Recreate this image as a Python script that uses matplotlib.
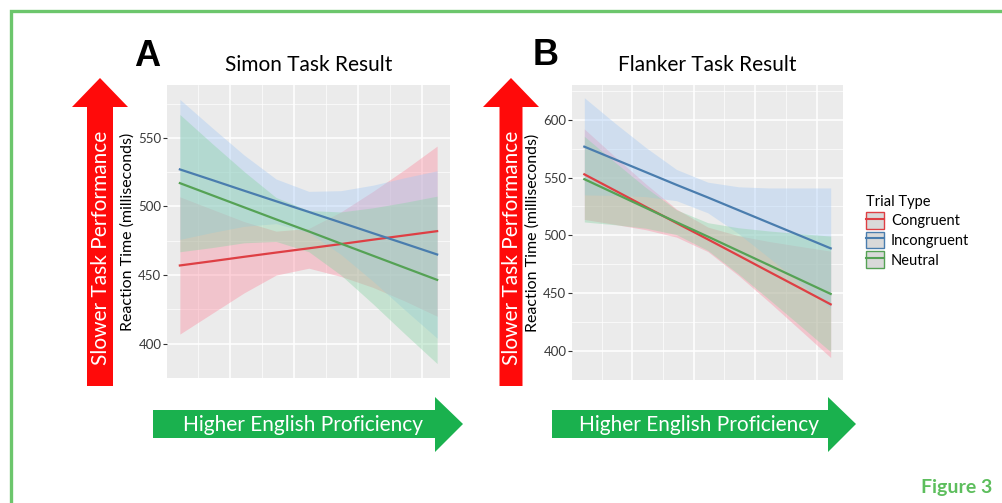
import numpy as np
import matplotlib.pyplot as plt
from matplotlib.patches import Polygon, Patch
from matplotlib.lines import Line2D

plt.rcParams['font.family'] = ['Lato', 'DejaVu Sans']

# English proficiency (x axis has no labels in the figure)
proficiency = [0.22, 0.72, 1.22, 1.72, 2.23, 2.73, 3.23, 3.73, 4.23]
trial_types = ['Congruent', 'Incongruent', 'Neutral']
line_colors = ['#DE3F44', '#4A7DAE', '#55A255']
fill_colors = ['#FC8A9E', '#A5CAF5', '#8AD4A5']

# Simon task: fitted reaction time (ms) and 95% CI
simon_con = [457, 460.1, 463.3, 466.4, 469.5, 472.6, 475.8, 478.9, 482]
simon_con_lo = [407, 422, 437, 450, 455, 449, 441, 431, 420]
simon_con_hi = [507, 498, 489, 482, 484, 496, 511, 527, 544]
simon_inc = [527, 519.3, 511.5, 503.8, 496, 488.3, 480.5, 472.8, 465]
simon_inc_lo = [476, 481, 485.5, 487.5, 481, 465, 445.5, 424.5, 404]
simon_inc_hi = [578, 557.5, 537.5, 520, 511, 511.5, 515.5, 521, 526]
simon_neu = [517, 508.2, 499.4, 490.6, 481.8, 472.9, 464.1, 455.3, 446.5]
simon_neu_lo = [467, 470, 473.5, 474.5, 467, 450, 429, 407, 385.5]
simon_neu_hi = [567, 546, 525.5, 506.5, 497, 496, 499, 503, 507.5]

# Flanker task
flanker_con = [552.8, 538.8, 524.7, 510.7, 496.6, 482.6, 468.5, 454.5, 440.4]
flanker_con_lo = [513.8, 509.5, 504.9, 498.5, 486, 465.3, 442.3, 418.4, 394.4]
flanker_con_hi = [592, 568, 544.5, 522.7, 507.2, 499.7, 494.7, 490.5, 486.4]
flanker_inc = [576.7, 565.7, 554.7, 543.7, 532.8, 521.8, 510.8, 499.8, 488.8]
flanker_inc_lo = [535, 534.5, 533.5, 530, 519.5, 501.5, 480.5, 459, 437]
flanker_inc_hi = [619, 597, 576, 557, 546, 542, 541, 541, 541]
flanker_neu = [548.6, 536.2, 523.8, 511.4, 499, 486.6, 474.2, 461.8, 449.4]
flanker_neu_lo = [511.6, 509.2, 506.2, 500.7, 487, 466.6, 444.6, 422.1, 399.4]
flanker_neu_hi = [585.6, 563.2, 541.4, 522.1, 511, 506.6, 503.8, 501.5, 499.4]

W, H = 1002, 503
fig = plt.figure(figsize=(W / 100, H / 100), dpi=100)


def panel(rect, title, fits, los, his, ylim, label_x):
    ax = fig.add_axes(rect)
    ax.set_facecolor('#EBEBEB')
    for fit, lo, hi, lc, fc in zip(fits, los, his, line_colors, fill_colors):
        ax.fill_between(proficiency, lo, hi, color=fc, alpha=0.4, lw=0)
        ax.plot(proficiency, fit, color=lc, lw=1.6)
    xr = proficiency[-1] - proficiency[0]
    ax.set_xlim(proficiency[0] - 0.05 * xr, proficiency[-1] + 0.05 * xr)
    ax.set_ylim(*ylim)
    ax.set_xticks([1, 2, 3, 4])
    ax.set_xticks([0.5, 1.5, 2.5, 3.5], minor=True)
    ax.set_yticks([400, 450, 500, 550, 600] if ylim[1] > 600 else [400, 450, 500, 550])
    ax.set_yticks(np.arange(375, ylim[1], 50), minor=True)
    ax.grid(True, which='major', color='white', lw=1.1)
    ax.grid(True, which='minor', color='white', lw=0.5)
    ax.set_axisbelow(True)
    for s in ax.spines.values():
        s.set_visible(False)
    ax.tick_params(axis='x', which='both', length=0, labelbottom=False)
    ax.tick_params(axis='y', which='major', length=3, width=0.8, color='#333333',
                   labelsize=9.5, labelcolor='#3A3A3A', pad=1)
    ax.tick_params(axis='y', which='minor', length=0)
    ax.set_ylabel('Reaction Time (milliseconds)', fontsize=11.5)
    ax.yaxis.set_label_coords(label_x, 0.5)
    ax.set_title(title, fontsize=15, pad=10)
    return ax


axA = panel([167 / W, 1 - 378 / H, 283 / W, 293 / H], 'Simon Task Result',
            [simon_con, simon_inc, simon_neu],
            [simon_con_lo, simon_inc_lo, simon_neu_lo],
            [simon_con_hi, simon_inc_hi, simon_neu_hi], (376, 588.5), -0.115)
axB = panel([572 / W, 1 - 380 / H, 271 / W, 295 / H], 'Flanker Task Result',
            [flanker_con, flanker_inc, flanker_neu],
            [flanker_con_lo, flanker_inc_lo, flanker_neu_lo],
            [flanker_con_hi, flanker_inc_hi, flanker_neu_hi], (381.5, 630), -0.12)

# legend
handles = [(Patch(facecolor='#D9D9D9', edgecolor=c, lw=1), Line2D([], [], color=c, lw=1.5))
           for c in line_colors]
leg = fig.legend(handles, trial_types, title='Trial Type', loc='upper left',
                 bbox_to_anchor=(853 / W, 1 - 182 / H), frameon=False, fontsize=10.5,
                 title_fontsize=10.5, handlelength=1.25, handleheight=1.35,
                 handletextpad=0.45, labelspacing=0.22, alignment='left')

# decoration overlay in pixel coordinates
ov = fig.add_axes([0, 0, 1, 1], zorder=5)
ov.set_xlim(0, W)
ov.set_ylim(H, 0)
ov.axis('off')
ov.patch.set_alpha(0)

border = '#6CC66C'
ov.plot([11.5, 11.5, W], [H, 10.5, 10.5], color=border, lw=2.4, solid_joinstyle='miter')

for cx, hw in ((100, 13), (511, 11.5)):
    ov.add_patch(Polygon([(cx - hw, 386), (cx - hw, 107), (cx - 28, 107), (cx, 78),
                          (cx + 28, 107), (cx + hw, 107), (cx + hw, 386)],
                         closed=True, color='#FF0A0A', lw=0))
    ov.text(cx + 1, 248, 'Slower Task Performance', rotation=90, color='white',
            fontsize=15, ha='center', va='center')

for x0, xb in ((153, 435), (552, 828)):
    ov.add_patch(Polygon([(x0, 410), (xb, 410), (xb, 397), (xb + 28, 424),
                          (xb, 452), (xb, 438), (x0, 438)],
                         closed=True, color='#1AB14E', lw=0))
    ov.text((x0 + xb) / 2 + 9, 425, 'Higher English Proficiency', color='white',
            fontsize=15, ha='center', va='center')

ov.text(147, 56, 'A', fontsize=26, fontweight='bold', family='Liberation Sans',
        ha='center', va='center')
ov.text(546, 55, 'B', fontsize=26, fontweight='bold', family='Liberation Sans',
        ha='center', va='center')
ov.text(957, 488, 'Figure 3', fontsize=14, fontweight='bold', color='#5DBE5D',
        ha='center', va='center')

fig.savefig('out.png', dpi=100)
